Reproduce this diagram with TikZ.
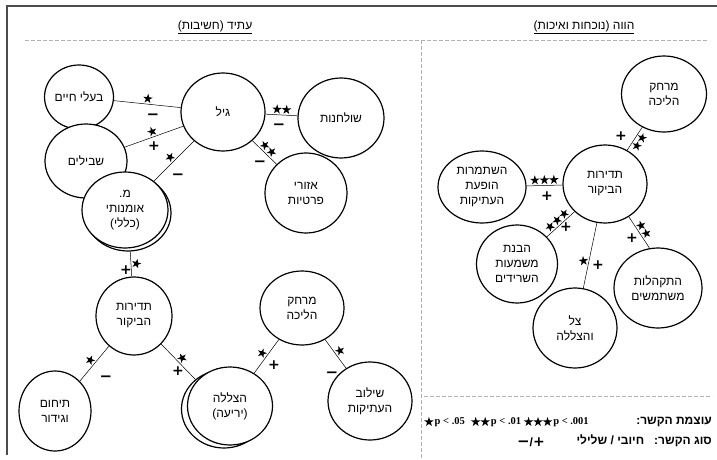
\documentclass[tikz,border=0pt]{standalone}
\usepackage{fontspec}
\setmainfont{Liberation Sans}
\newfontfamily\heb[Script=Hebrew]{Liberation Sans}
\newfontfamily\lserif{Liberation Serif}
\newfontfamily\dejab{DejaVu Sans}
\TeXXeTstate=1
\usetikzlibrary{shapes.geometric}
\newcommand\R[1]{\beginR #1\endR}
\tikzset{
  starshape/.style={star, star points=5, star point ratio=2.6, fill=black, draw=none, inner sep=0pt, minimum size=10pt},
}
\newcommand\sstar{\tikz[baseline=-0.6ex]\node[starshape]{};}
\newcommand\pl{{\dejab\bfseries\fontsize{14}{14}\selectfont +}}
\newcommand\mi{{\dejab\bfseries\fontsize{15}{14}\selectfont −}}
\begin{document}
\begin{tikzpicture}[x=1pt,y=-1pt,
  ent/.style={draw, line width=1.2pt, ellipse, fill=white, inner sep=0pt,
    minimum width=84pt, minimum height=78pt, align=center,
    font=\heb\fontsize{12}{15}\selectfont},
  conn/.style={line width=0.5pt},
  sig/.style={inner sep=0.5pt, font=\fontsize{8}{8}\selectfont},
  pm/.style={inner sep=0pt},
  sep/.style={draw=black!30, line width=0.8pt, dash pattern=on 4pt off 2pt},
  title/.style={font=\heb\fontsize{12}{14}\selectfont},
  leg/.style={font=\heb\bfseries\fontsize{12}{14}\selectfont, inner sep=0pt},
]
\useasboundingbox (0,0) rectangle (717,460);
% frame
\draw[line width=1.5pt, black!70] (7,455) -- (7,6) -- (717,6);
% separators
\draw[sep] (25,40) -- (708,40);
\draw[sep] (421,40) -- (421,458);
\draw[sep] (424,396) -- (712,396);
% titles
\node[title] (tL) at (215,27) {\underline{\R{עתיד (חשיבות)}}};
\node[title] (tR) at (584,27) {\underline{\R{הווה (נוכחות ואיכות)}}};

% ---------- left panel ----------
\node[ent, minimum width=68pt, minimum height=64pt] (baalei) at (79,97) {\R{בעלי חיים}};
\node[ent, minimum width=82pt, minimum height=74pt] (shvilim) at (86,161) {\R{שבילים}};
\node[ent, minimum width=86pt, minimum height=76pt] (omanutiB) at (128,213) {};
\node[ent, minimum width=86pt, minimum height=76pt] (omanuti) at (125,210) {\R{מ.}\\\R{אומנותי}\\\R{(כללי)}};
\node[ent, minimum width=84pt, minimum height=78pt] (gil) at (223,112) {\R{גיל}};
\node[ent, minimum width=86pt, minimum height=80pt] (shulchan) at (341,118) {\R{שולחנות}};
\node[ent, minimum width=82pt, minimum height=80pt] (ezorei) at (306,193) {\R{אזורי}\\\R{פרטיות}};
\node[ent, minimum width=76pt, minimum height=78pt] (tdirutL) at (134,316) {\R{תדירות}\\\R{הביקור}};
\node[ent, minimum width=72pt, minimum height=80pt] (tichum) at (55,411) {\R{תיחום}\\\R{וגידור}};
\node[ent, minimum width=85pt, minimum height=78pt] (hatzB) at (224,409) {};
\node[ent, minimum width=85pt, minimum height=78pt] (hatz) at (230,406) {\R{הצללה}\\\R{(יריעה)}};
\node[ent, minimum width=84pt, minimum height=74pt] (mirchakL) at (302,308) {\R{מרחק}\\\R{הליכה}};
\node[ent, minimum width=84pt, minimum height=78pt] (shiluv) at (370,401) {\R{שילוב}\\\R{העתיקות}};

\draw[conn] (gil) -- (baalei) node[sig, pos=.5, sloped, above] {\sstar};
\node[pm] (m1) at (153,117) {\mi};
\draw[conn] (gil) -- (shvilim) node[sig, pos=.5, sloped, above] {\sstar};
\node[pm] (p2) at (154,146) {\pl};
\draw[conn] (gil) -- (omanuti) node[sig, pos=.5, sloped, above] {\sstar};
\node[pm] (m3) at (178,177) {\mi};
\draw[conn] (gil) -- (shulchan) node[sig, pos=.5, sloped, above] {\sstar\sstar};
\node[pm] (m4) at (279,127) {\mi};
\draw[conn] (gil) -- (ezorei) node[sig, pos=.5, sloped, above] {\sstar\sstar};
\node[pm] (m5) at (260,164) {\mi};
\draw[conn] (omanutiB) -- (tdirutL) node[sig, pos=.5, sloped, above] {\sstar};
\node[pm] (p6) at (126,270) {\pl};
\draw[conn] (tdirutL) -- (tichum) node[sig, pos=.5, sloped, above] {\sstar};
\node[pm] (m7) at (106,379) {\mi};
\draw[conn] (tdirutL) -- (hatzB) node[sig, pos=.5, sloped, above] {\sstar};
\node[pm] (p8) at (178,371) {\pl};
\draw[conn] (mirchakL) -- (hatz) node[sig, pos=.5, sloped, above] {\sstar};
\node[pm] (p9) at (274,365) {\pl};
\draw[conn] (mirchakL) -- (shiluv) node[sig, pos=.5, sloped, above] {\sstar};
\node[pm] (m10) at (332,375) {\mi};

% ---------- right panel ----------
\node[ent, minimum width=85pt, minimum height=76pt] (mirchakR) at (664,94) {\R{מרחק}\\\R{הליכה}};
\node[ent, minimum width=84pt, minimum height=78pt] (tdirutR) at (605,184) {\R{תדירות}\\\R{הביקור}};
\node[ent, minimum width=88pt, minimum height=72pt] (hishtam) at (482,187) {\R{השתמרות}\\\R{הופעת}\\\R{העתיקות}};
\node[ent, minimum width=81pt, minimum height=78pt] (havanat) at (517,264) {\R{הבנת}\\\R{משמעות}\\\R{השרידים}};
\node[ent, minimum width=88pt, minimum height=80pt] (hitkahal) at (658,288) {\R{התקהלות}\\\R{משתמשים}};
\node[ent, minimum width=84pt, minimum height=80pt] (tzel) at (575,328) {\R{צל}\\\R{והצללה}};

\draw[conn] (tdirutR) -- (mirchakR) node[sig, pos=.5, sloped, below] {\sstar\sstar};
\node[pm] (p11) at (621,136) {\pl};
\draw[conn] (hishtam) -- (tdirutR) node[sig, pos=.5, sloped, above] {\sstar\sstar\sstar};
\node[pm] (p12) at (547,196) {\pl};
\draw[conn] (tdirutR) -- (havanat) node[sig, pos=.5, sloped, above] {\sstar\sstar\sstar};
\node[pm] (p13) at (566,227) {\pl};
\draw[conn] (tdirutR.-54) -- (hitkahal.102) node[sig, pos=.5, sloped, above] {\sstar\sstar};
\node[pm] (p14) at (632,238) {\pl};
\draw[conn] (tdirutR) -- (tzel) node[sig, pos=.6, sloped, above] {\sstar};
\node[pm] (p15) at (598,265) {\pl};

% ---------- legend ----------
\node[leg, anchor=east] (l1h) at (712,422) {\R{עוצמת הקשר:}};
\node[inner sep=0pt, anchor=west, font=\lserif\bfseries\fontsize{10.5}{12}\selectfont] (l1l) at (424,422)
  {\sstar\kern1pt p < .05\hspace{6pt}\sstar\sstar\kern1pt p < .01 \sstar\sstar\sstar\kern1pt p < .001};
\node[leg, anchor=east] (l2h) at (712,441) {\R{סוג הקשר:\hspace{10pt}חיובי / שלילי}};
\node[inner sep=0pt, anchor=east] (l2s) at (545,442) {\mi{\heb\bfseries\fontsize{12}{12}\selectfont /}\pl};
\end{tikzpicture}
\end{document}
